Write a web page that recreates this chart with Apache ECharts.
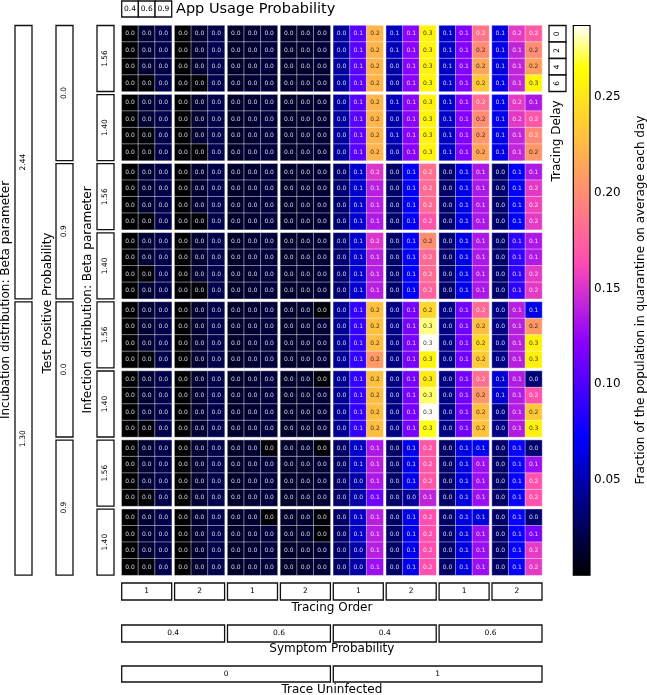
<!DOCTYPE html>
<html><head><meta charset="utf-8">
<script src="https://cdn.jsdelivr.net/npm/echarts@6/dist/echarts.min.js"></script>
<style>html,body{margin:0;padding:0;background:#fff}#c{width:647px;height:695px}</style>
</head><body><div id="c"></div>
<script>
// ---- category / tick data ----
const traceUninfected = ['0', '1'];
const symptomProb = ['0.4', '0.6'];
const tracingOrder = ['1', '2'];
const appUsage = ['0.4', '0.6', '0.9'];
const incubation = ['2.44', '1.30'];
const testPositive = ['0.0', '0.9'];
const infection = ['1.56', '1.40'];
const tracingDelay = ['0', '2', '4', '6'];
const colorbarTicks = [0.05, 0.10, 0.15, 0.20, 0.25];
const VMIN = 0.0, VMAX = 0.2876;

// ---- values: each row block = 4 rows (tracing delay 0,2,4,6) x 24 columns
// columns: TraceUninfected(0,1) > Symptom(0.4,0.6) > TracingOrder(1,2) > AppUsage(0.4,0.6,0.9)
const inc244_tp00_inf156 = [
 [0.001,0.014,0.021, 0.001,0.014,0.021, 0.012,0.014,0.017, 0.012,0.013,0.015, 0.045,0.103,0.223, 0.054,0.122,0.258, 0.056,0.119,0.186, 0.062,0.154,0.172],
 [0.001,0.015,0.021, 0.001,0.014,0.022, 0.012,0.014,0.017, 0.012,0.013,0.016, 0.045,0.104,0.222, 0.052,0.122,0.259, 0.056,0.119,0.200, 0.064,0.141,0.200],
 [0.001,0.014,0.020, 0.001,0.014,0.021, 0.012,0.013,0.017, 0.012,0.013,0.015, 0.044,0.104,0.222, 0.047,0.121,0.258, 0.055,0.119,0.215, 0.063,0.141,0.211],
 [0.001,0.002,0.021, 0.001,0.002,0.021, 0.012,0.014,0.016, 0.012,0.013,0.015, 0.044,0.103,0.223, 0.046,0.122,0.260, 0.056,0.118,0.234, 0.064,0.141,0.258]
];
const inc244_tp00_inf140 = [
 [0.001,0.014,0.021, 0.001,0.014,0.021, 0.012,0.014,0.017, 0.012,0.013,0.015, 0.045,0.104,0.223, 0.053,0.122,0.258, 0.056,0.119,0.183, 0.066,0.154,0.134],
 [0.001,0.014,0.021, 0.001,0.014,0.021, 0.012,0.014,0.017, 0.012,0.013,0.015, 0.045,0.104,0.223, 0.048,0.122,0.258, 0.056,0.119,0.200, 0.066,0.153,0.170],
 [0.001,0.002,0.021, 0.001,0.014,0.021, 0.012,0.014,0.017, 0.012,0.013,0.015, 0.044,0.104,0.222, 0.052,0.121,0.258, 0.055,0.119,0.206, 0.065,0.142,0.198],
 [0.001,0.002,0.021, 0.001,0.002,0.021, 0.012,0.014,0.017, 0.012,0.013,0.015, 0.044,0.104,0.222, 0.047,0.122,0.259, 0.056,0.118,0.214, 0.065,0.142,0.205]
];
const inc244_tp09_inf156 = [
 [0.001,0.014,0.021, 0.001,0.014,0.021, 0.012,0.014,0.017, 0.012,0.013,0.015, 0.031,0.058,0.151, 0.030,0.070,0.183, 0.030,0.065,0.134, 0.030,0.070,0.135],
 [0.001,0.014,0.021, 0.001,0.014,0.021, 0.012,0.014,0.017, 0.012,0.013,0.015, 0.031,0.058,0.138, 0.030,0.070,0.181, 0.030,0.065,0.134, 0.030,0.070,0.153],
 [0.001,0.014,0.021, 0.001,0.014,0.021, 0.012,0.014,0.017, 0.012,0.013,0.015, 0.031,0.058,0.138, 0.030,0.070,0.180, 0.030,0.065,0.134, 0.030,0.070,0.158],
 [0.001,0.002,0.021, 0.001,0.002,0.021, 0.012,0.014,0.017, 0.012,0.013,0.015, 0.031,0.058,0.135, 0.030,0.070,0.168, 0.030,0.065,0.134, 0.030,0.070,0.154]
];
const inc244_tp09_inf140 = [
 [0.001,0.014,0.021, 0.001,0.014,0.021, 0.012,0.014,0.017, 0.012,0.013,0.015, 0.031,0.058,0.151, 0.030,0.070,0.201, 0.030,0.065,0.134, 0.030,0.088,0.134],
 [0.001,0.014,0.021, 0.001,0.014,0.021, 0.012,0.014,0.017, 0.012,0.013,0.015, 0.031,0.058,0.138, 0.030,0.070,0.180, 0.030,0.065,0.134, 0.030,0.088,0.135],
 [0.001,0.002,0.021, 0.001,0.014,0.021, 0.012,0.014,0.017, 0.012,0.013,0.015, 0.031,0.058,0.138, 0.030,0.070,0.181, 0.030,0.065,0.134, 0.030,0.088,0.154],
 [0.001,0.014,0.021, 0.001,0.002,0.021, 0.012,0.014,0.017, 0.012,0.013,0.015, 0.031,0.058,0.138, 0.030,0.070,0.176, 0.030,0.065,0.134, 0.030,0.088,0.154]
];
const inc130_tp00_inf156 = [
 [0.001,0.014,0.021, 0.001,0.014,0.021, 0.012,0.014,0.017, 0.012,0.013,0.002, 0.042,0.090,0.229, 0.037,0.115,0.242, 0.037,0.112,0.181, 0.037,0.138,0.065],
 [0.001,0.014,0.021, 0.001,0.014,0.021, 0.012,0.014,0.017, 0.012,0.013,0.015, 0.042,0.090,0.229, 0.037,0.115,0.276, 0.037,0.112,0.229, 0.037,0.138,0.207],
 [0.001,0.014,0.021, 0.001,0.014,0.021, 0.012,0.014,0.017, 0.012,0.013,0.015, 0.042,0.090,0.228, 0.037,0.115,0.287, 0.037,0.112,0.243, 0.037,0.138,0.257],
 [0.001,0.002,0.021, 0.001,0.014,0.021, 0.012,0.014,0.017, 0.012,0.013,0.015, 0.042,0.090,0.207, 0.037,0.115,0.259, 0.037,0.112,0.235, 0.037,0.138,0.257]
];
const inc130_tp00_inf140 = [
 [0.001,0.014,0.021, 0.001,0.014,0.021, 0.012,0.014,0.017, 0.012,0.013,0.002, 0.042,0.090,0.229, 0.037,0.115,0.252, 0.037,0.112,0.183, 0.059,0.136,0.034],
 [0.001,0.014,0.021, 0.001,0.014,0.021, 0.012,0.014,0.017, 0.012,0.013,0.015, 0.042,0.090,0.227, 0.037,0.115,0.274, 0.037,0.112,0.206, 0.058,0.136,0.167],
 [0.001,0.014,0.021, 0.001,0.014,0.021, 0.012,0.014,0.017, 0.012,0.013,0.015, 0.042,0.090,0.228, 0.037,0.115,0.287, 0.037,0.112,0.228, 0.037,0.136,0.234],
 [0.001,0.002,0.021, 0.001,0.014,0.021, 0.012,0.014,0.017, 0.012,0.013,0.015, 0.042,0.090,0.227, 0.037,0.115,0.266, 0.037,0.112,0.231, 0.037,0.136,0.257]
];
const inc130_tp09_inf156 = [
 [0.001,0.014,0.021, 0.001,0.014,0.021, 0.012,0.014,0.002, 0.012,0.013,0.002, 0.029,0.056,0.134, 0.029,0.066,0.170, 0.029,0.063,0.068, 0.029,0.074,0.031],
 [0.001,0.014,0.021, 0.001,0.014,0.021, 0.012,0.014,0.017, 0.012,0.013,0.015, 0.029,0.056,0.138, 0.029,0.066,0.170, 0.029,0.063,0.128, 0.029,0.074,0.128],
 [0.001,0.014,0.021, 0.001,0.014,0.021, 0.012,0.014,0.017, 0.012,0.013,0.015, 0.029,0.047,0.134, 0.029,0.066,0.170, 0.029,0.063,0.128, 0.029,0.074,0.167],
 [0.001,0.002,0.021, 0.001,0.014,0.021, 0.012,0.014,0.017, 0.012,0.013,0.015, 0.029,0.047,0.112, 0.029,0.043,0.141, 0.029,0.063,0.128, 0.029,0.074,0.167]
];
const inc130_tp09_inf140 = [
 [0.001,0.014,0.021, 0.001,0.014,0.021, 0.012,0.014,0.002, 0.012,0.013,0.002, 0.029,0.056,0.138, 0.029,0.066,0.166, 0.029,0.063,0.062, 0.029,0.074,0.031],
 [0.001,0.014,0.021, 0.001,0.014,0.021, 0.012,0.014,0.017, 0.012,0.013,0.002, 0.029,0.056,0.138, 0.029,0.066,0.166, 0.029,0.063,0.128, 0.029,0.074,0.115],
 [0.001,0.014,0.021, 0.001,0.014,0.021, 0.012,0.014,0.017, 0.012,0.013,0.015, 0.029,0.047,0.138, 0.029,0.066,0.166, 0.029,0.063,0.128, 0.029,0.074,0.154],
 [0.001,0.002,0.021, 0.001,0.014,0.021, 0.012,0.014,0.017, 0.012,0.013,0.015, 0.029,0.047,0.128, 0.029,0.066,0.166, 0.029,0.063,0.128, 0.029,0.074,0.154]
];
const rowBlocks = [inc244_tp00_inf156, inc244_tp00_inf140, inc244_tp09_inf156, inc244_tp09_inf140,
                   inc130_tp00_inf156, inc130_tp00_inf140, inc130_tp09_inf156, inc130_tp09_inf140];

// ---- layout ----
const X0 = 121.7, PX = 52.9, BW = 50, Y0 = 25.5, PY = 69.1, BH = 66;
const FONT = 'DejaVu Sans';

function gp2(x) {
  x = Math.max(0, Math.min(1, x));
  const cl = v => Math.max(0, Math.min(1, v));
  const r = cl(x / 0.32 - 0.78125);
  const g = cl(2 * x - 0.84);
  let b;
  if (x < 0.25) b = 4 * x; else if (x < 0.42) b = 1; else if (x < 0.92) b = -2 * x + 1.84; else b = x / 0.08 - 11.5;
  return [r, g, cl(b)];
}
function rgbStr(c) { return 'rgb(' + c.map(v => Math.round(v * 255)).join(',') + ')'; }
function lin(c) { return c <= 0.03928 ? c / 12.92 : Math.pow((c + 0.055) / 1.055, 2.4); }
function textColor(v) {
  const c = gp2((v - VMIN) / (VMAX - VMIN));
  const L = 0.2126 * lin(c[0]) + 0.7152 * lin(c[1]) + 0.0722 * lin(c[2]);
  return L > 0.408 ? 'rgba(20,20,20,0.85)' : 'rgba(255,255,255,0.82)';
}
const cmap = [];
for (let i = 0; i <= 200; i++) cmap.push(rgbStr(gp2(i / 200)));

const grids = [], xAxes = [], yAxes = [], series = [];
for (let r = 0; r < 8; r++) {
  for (let c = 0; c < 8; c++) {
    const gi = grids.length;
    grids.push({ left: X0 + c * PX, top: Y0 + r * PY, width: BW, height: BH });
    xAxes.push({ type: 'category', data: appUsage, gridIndex: gi, show: false });
    yAxes.push({ type: 'category', data: tracingDelay, gridIndex: gi, inverse: true, show: false });
    const data = [];
    for (let j = 0; j < 4; j++) for (let i = 0; i < 3; i++) {
      const v = rowBlocks[r][j][c * 3 + i];
      data.push({ value: [i, j, v], label: { color: textColor(v) } });
    }
    series.push({
      type: 'heatmap', xAxisIndex: gi, yAxisIndex: gi, data: data,
      itemStyle: { borderColor: 'rgba(255,255,255,0.55)', borderWidth: 0.8 },
      label: { show: true, fontSize: 6, fontFamily: FONT, formatter: p => p.value[2].toFixed(1) },
      emphasis: { disabled: true }
    });
  }
}
// colorbar axis grid
const CB = { left: 573.3, top: Y0, width: 16.7, height: 7 * PY + BH };
const cbi = grids.length;
grids.push(CB);
xAxes.push({ type: 'value', gridIndex: cbi, show: false, min: 0, max: 1 });
yAxes.push({
  type: 'value', gridIndex: cbi, min: VMIN, max: VMAX, position: 'right',
  axisLine: { show: false }, splitLine: { show: false },
  axisTick: { show: true, length: 4, customValues: colorbarTicks, lineStyle: { color: '#000', width: 1 } },
  axisLabel: { customValues: colorbarTicks, formatter: v => v.toFixed(2), fontSize: 12, fontFamily: FONT, color: '#000', margin: 4 }
});

const graphic = [];
function box(x, y, w, h, text, rot) {
  graphic.push({ type: 'rect', shape: { x, y, width: w, height: h }, style: { fill: '#fff', stroke: '#111', lineWidth: 1.3 }, z: 10 });
  graphic.push({ type: 'text', x: x + w / 2, y: y + h / 2, rotation: rot ? Math.PI / 2 : 0,
    style: { text, fontSize: 7.5, fontFamily: FONT, fill: '#000', align: 'center', verticalAlign: 'middle' }, z: 11 });
}
function label(x, y, text, rot, size) {
  graphic.push({ type: 'text', x, y, rotation: rot ? Math.PI / 2 : 0,
    style: { text, fontSize: size || 12, fontFamily: FONT, fill: '#000', align: rot ? 'center' : 'left', verticalAlign: 'middle' }, z: 11 });
}
function clabel(x, y, text) {
  graphic.push({ type: 'text', x, y, style: { text, fontSize: 12, fontFamily: FONT, fill: '#000', align: 'center', verticalAlign: 'middle' }, z: 11 });
}
// top: app usage
for (let i = 0; i < 3; i++) box(X0 + i * BW / 3, 1, BW / 3, 16, appUsage[i], false);
label(176, 9.5, 'App Usage Probability', false, 14.5);
// right: tracing delay
for (let j = 0; j < 4; j++) box(549, Y0 + j * BH / 4, 17, BH / 4, tracingDelay[j], true);
label(557, 141, 'Tracing Delay', true);
// left boxes
for (let k = 0; k < 2; k++) box(15, Y0 + k * 4 * PY, 17, 3 * PY + BH, incubation[k], true);
for (let k = 0; k < 4; k++) box(56, Y0 + k * 2 * PY, 17, PY + BH, testPositive[k % 2], true);
for (let k = 0; k < 8; k++) box(97, Y0 + k * PY, 17, BH, infection[k % 2], true);
label(6, 300, 'Incubation distribution: Beta parameter', true);
label(47.5, 303, 'Test Positive Probability', true);
label(88, 300, 'Infection distribution: Beta parameter', true);
// bottom boxes
const CX = X0 + (7 * PX + BW) / 2;
for (let c = 0; c < 8; c++) box(X0 + c * PX, 583, BW, 17, tracingOrder[c % 2], false);
clabel(CX, 607.5, 'Tracing Order');
for (let k = 0; k < 4; k++) box(X0 + 2 * k * PX, 625, PX + BW, 17, symptomProb[k % 2], false);
clabel(CX, 649, 'Symptom Probability');
for (let k = 0; k < 2; k++) box(X0 + 4 * k * PX, 666, 3 * PX + BW, 16, traceUninfected[k], false);
clabel(CX, 689.5, 'Trace Uninfected');
// colorbar
const stops = [];
for (let i = 0; i <= 100; i++) stops.push({ offset: i / 100, color: rgbStr(gp2(i / 100)) });
graphic.push({ type: 'rect', shape: { x: CB.left, y: CB.top, width: CB.width, height: CB.height },
  style: { fill: new echarts.graphic.LinearGradient(0, 1, 0, 0, stops), stroke: '#000', lineWidth: 1.2 }, z: 5 });
label(641, 300, 'Fraction of the population in quarantine on average each day', true);

const chart = echarts.init(document.getElementById('c'), null, { renderer: 'canvas' });
chart.setOption({
  animation: false,
  backgroundColor: '#fff',
  grid: grids, xAxis: xAxes, yAxis: yAxes, series: series,
  visualMap: { show: false, type: 'continuous', min: VMIN, max: VMAX, dimension: 2,
    seriesIndex: series.map((s, i) => i), inRange: { color: cmap } },
  graphic: graphic
});
</script></body></html>
